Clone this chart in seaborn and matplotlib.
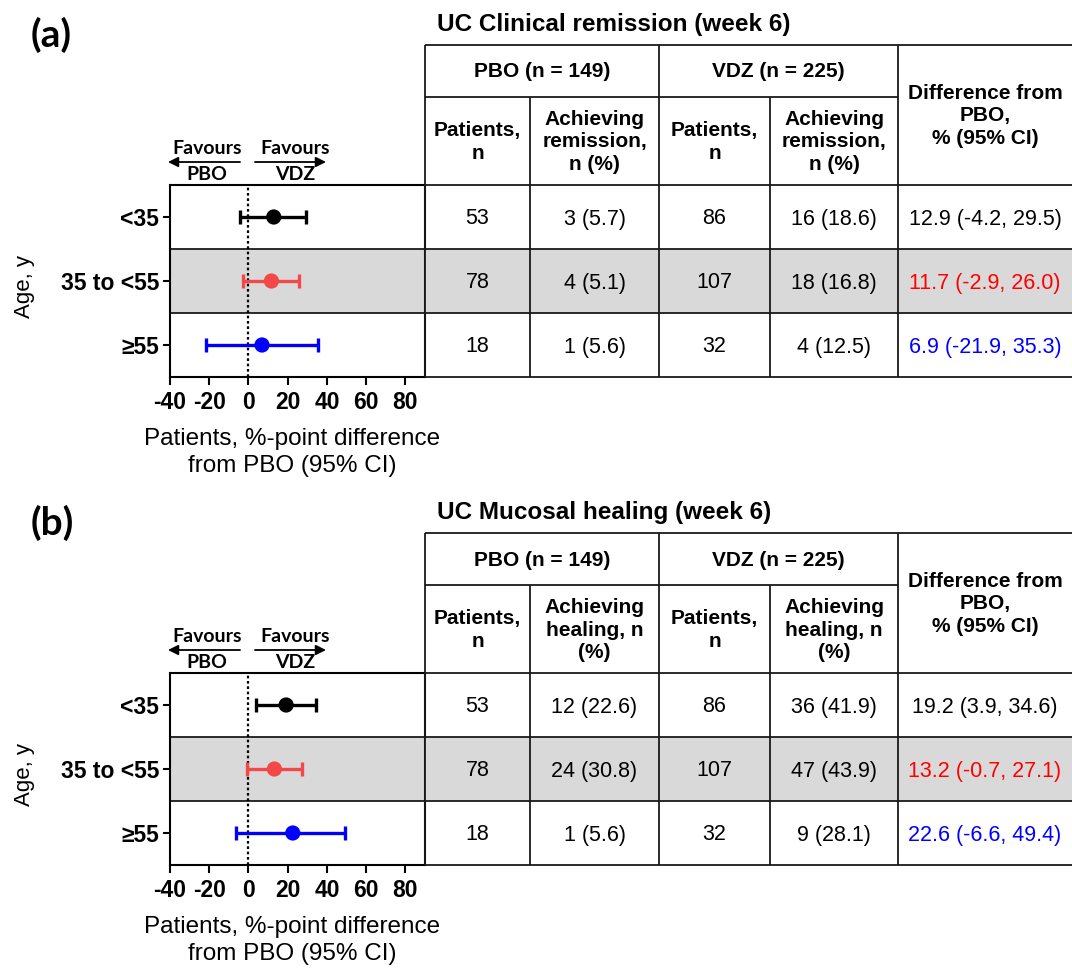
import numpy as np
import pandas as pd
import matplotlib.pyplot as plt
import seaborn as sns

# figure size in pixels (saved at dpi=100)
W, H = 1072, 968

# ---- data ----
ages = ["<35", "35 to <55", "≥55"]
marker_colors = ["black", "#f24848", "#0000ff"]
diff_colors = ["black", "#ff0000", "#0000ff"]

# (a) clinical remission, week 6
rem_est = [12.9, 11.7, 6.9]
rem_lo = [-4.2, -2.9, -21.9]
rem_hi = [29.5, 26.0, 35.3]
rem_pbo_n = [53, 78, 18]
rem_pbo_k = [3, 4, 1]
rem_pbo_pct = [5.7, 5.1, 5.6]
rem_vdz_n = [86, 107, 32]
rem_vdz_k = [16, 18, 4]
rem_vdz_pct = [18.6, 16.8, 12.5]

# (b) mucosal healing, week 6
heal_est = [19.2, 13.2, 22.6]
heal_lo = [3.9, -0.7, -6.6]
heal_hi = [34.6, 27.1, 49.4]
heal_pbo_n = [53, 78, 18]
heal_pbo_k = [12, 24, 1]
heal_pbo_pct = [22.6, 30.8, 5.6]
heal_vdz_n = [86, 107, 32]
heal_vdz_k = [36, 47, 9]
heal_vdz_pct = [41.9, 43.9, 28.1]

pbo_total, vdz_total = 149, 225
x_ticks = [-40, -20, 0, 20, 40, 60, 80]

sns.set_style("ticks", {"axes.edgecolor": "black", "xtick.color": "black",
                        "ytick.color": "black", "text.color": "black",
                        "axes.labelcolor": "black"})
plt.rcParams['font.family'] = ['Liberation Sans', 'DejaVu Sans']

GREY = "#d9d9d9"
LINE = "#1a1a1a"
CAL = ["Lato", "DejaVu Sans"]


def px_rect(x0, y0, x1, y1):
    """pixel box (top-left origin) -> figure fraction rect"""
    return [x0 / W, 1 - y1 / H, (x1 - x0) / W, (y1 - y0) / H]


def draw_panel(fig, dy, letter, title, word, est, lo, hi,
               pbo_n, pbo_k, pbo_pct, vdz_n, vdz_k, vdz_pct):
    rows = np.arange(len(ages))
    df = pd.DataFrame({"age": ages, "est": est, "lo": lo, "hi": hi, "row": rows})

    # ---- forest plot ----
    ax = fig.add_axes(px_rect(170, 185 + dy, 425, 377 + dy))
    ax.axhspan(0.5, 1.5, color=GREY, zorder=0, lw=0)
    for yb in (0.5, 1.5):
        ax.axhline(yb, color=LINE, lw=1.3, zorder=1)
    ax.axvline(0, color="black", ls=(0, (1.2, 1.2)), lw=1.6, zorder=2)
    for i, r in df.iterrows():
        ax.errorbar(r["est"], r["row"],
                    xerr=[[r["est"] - r["lo"]], [r["hi"] - r["est"]]],
                    fmt="none", ecolor=marker_colors[i], elinewidth=2.4,
                    capsize=5, capthick=2.4, zorder=3)
    sns.scatterplot(data=df, x="est", y="row", hue="age",
                    palette=dict(zip(ages, marker_colors)), s=120,
                    edgecolor="none", legend=False, zorder=4, ax=ax)
    ax.set_xlim(-40, 90)
    ax.set_ylim(2.5, -0.5)
    ax.set_xticks(x_ticks, [str(t) for t in x_ticks], fontweight="bold", fontsize=16.5)
    ax.set_yticks(rows, ages, fontweight="bold", fontsize=16.5)
    ax.tick_params(axis="x", length=6, width=1.5, pad=4)
    ax.tick_params(axis="y", length=5, width=1.5, pad=3)
    for s in ax.spines.values():
        s.set_linewidth(1.5)
    ax.set_xlabel("Patients, %-point difference\nfrom PBO (95% CI)", fontsize=17.5,
                  linespacing=1.3)
    ax.xaxis.set_label_coords(0.478, -0.265)
    ax.set_ylabel("Age, y", fontsize=16)
    ax.yaxis.set_label_coords(-0.53, 0.47)

    # favours arrows
    for x_txt, x0, x1, lab in [(207, 240, 168, "PBO"), (295, 255, 326, "VDZ")]:
        ax.annotate("", xy=(x1, H - 162 - dy), xytext=(x0, H - 162 - dy),
                    xycoords="figure pixels", textcoords="figure pixels",
                    arrowprops=dict(arrowstyle="-|>", lw=1.3, color="black",
                                    mutation_scale=15, shrinkA=0, shrinkB=0))
        fig.text(x_txt / W, 1 - (148 + dy) / H, "Favours", ha="center", va="center",
                 fontsize=14, fontweight="bold", family=CAL)
        fig.text(x_txt / W, 1 - (175 + dy) / H, lab, ha="center", va="center",
                 fontsize=14, fontweight="bold", family=CAL)

    fig.text(31 / W, 1 - (35 + dy) / H, letter, ha="left", va="center",
             fontsize=28, fontweight="bold", family=CAL)
    fig.text(437 / W, 1 - (24 + dy) / H, title, ha="left", va="center",
             fontsize=17.5, fontweight="bold")

    # ---- table ----
    tx = fig.add_axes(px_rect(425, 45 + dy, 1072, 377 + dy))
    tx.set_xlim(0, 647)
    tx.set_ylim(332, 0)
    tx.axis("off")
    cols = [0, 105, 234, 345, 473, 647]
    data_top, row_h = 140, 64
    tx.axhspan(data_top + row_h, data_top + 2 * row_h, color=GREY, lw=0, zorder=0)
    kw = dict(color=LINE, lw=1.3, clip_on=False, zorder=1)
    tx.hlines([0], 0, 647, **kw)
    tx.hlines([52], 0, cols[4], **kw)
    tx.hlines([data_top + row_h * k for k in range(4)], 0, 647, **kw)
    tx.vlines([0, cols[2], cols[4]], 0, 332, **kw)
    tx.vlines([cols[1], cols[3]], 52, 332, **kw)

    hk = dict(ha="center", va="center", fontsize=15, fontweight="bold", linespacing=1.25)
    tx.text(cols[2] / 2, 27, f"PBO (n = {pbo_total})", **hk)
    tx.text((cols[2] + cols[4]) / 2, 27, f"VDZ (n = {vdz_total})", **hk)
    tx.text((cols[4] + cols[5]) / 2, 71, "Difference from\nPBO,\n% (95% CI)", **hk)
    if word == "remission":
        ach = "Achieving\nremission,\nn (%)"
    else:
        ach = "Achieving\nhealing, n\n(%)"
    for c0, c1, lab in [(0, 1, "Patients,\nn"), (1, 2, ach),
                        (2, 3, "Patients,\nn"), (3, 4, ach)]:
        tx.text((cols[c0] + cols[c1]) / 2, 97, lab, **hk)

    dk = dict(ha="center", va="center", fontsize=15.5)
    centers = [(cols[k] + cols[k + 1]) / 2 for k in range(5)]
    for i in range(len(ages)):
        yc = data_top + row_h * (i + 0.5) + 2
        tx.text(centers[0], yc, f"{pbo_n[i]}", **dk)
        tx.text(centers[1], yc, f"{pbo_k[i]} ({pbo_pct[i]:.1f})", **dk)
        tx.text(centers[2], yc, f"{vdz_n[i]}", **dk)
        tx.text(centers[3], yc, f"{vdz_k[i]} ({vdz_pct[i]:.1f})", **dk)
        tx.text(centers[4], yc, f"{est[i]:.1f} ({lo[i]:.1f}, {hi[i]:.1f})",
                color=diff_colors[i], **dk)


fig = plt.figure(figsize=(W / 100, H / 100), dpi=100)
draw_panel(fig, 0, "(a)", "UC Clinical remission (week 6)", "remission",
           rem_est, rem_lo, rem_hi, rem_pbo_n, rem_pbo_k, rem_pbo_pct,
           rem_vdz_n, rem_vdz_k, rem_vdz_pct)
draw_panel(fig, 488, "(b)", "UC Mucosal healing (week 6)", "healing",
           heal_est, heal_lo, heal_hi, heal_pbo_n, heal_pbo_k, heal_pbo_pct,
           heal_vdz_n, heal_vdz_k, heal_vdz_pct)

fig.savefig("out.png", dpi=100)
